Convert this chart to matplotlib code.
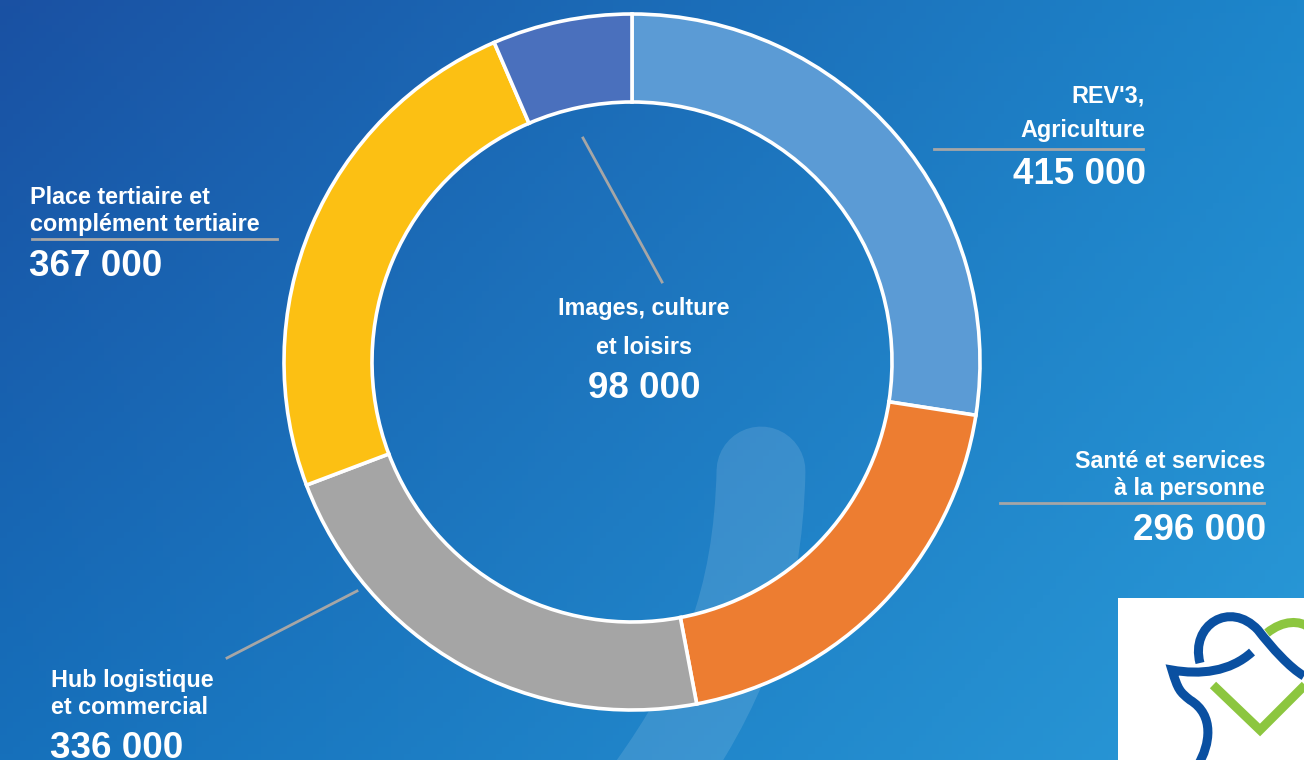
import numpy as np
import matplotlib
matplotlib.use("Agg")
import matplotlib.pyplot as plt
from matplotlib.path import Path
from matplotlib.patches import PathPatch, Rectangle
from matplotlib.colors import to_rgb

plt.rcParams["font.family"] = ["Liberation Sans", "DejaVu Sans"]

# data, clockwise from the top
labels = ["REV'3,\nAgriculture", "Santé et services\nà la personne",
          "Hub logistique\net commercial", "Place tertiaire et\ncomplément tertiaire",
          "Images, culture\net loisirs"]
values = [415000, 296000, 336000, 367000, 98000]
colors = ["#5b9bd5", "#ed7d31", "#a5a5a5", "#fcc013", "#4a70bd"]


def fmt(v):
    return f"{v:,}".replace(",", " ")


W, H = 1304, 760
fig = plt.figure(figsize=(W / 100, H / 100), dpi=100)
ax = fig.add_axes([0, 0, 1, 1])

# background gradient (bilinear between corner colours)
tl, tr = np.array(to_rgb("#1a51a3")), np.array(to_rgb("#1d86cb"))
bl, br = np.array(to_rgb("#1670bb")), np.array(to_rgb("#2a9ad8"))
u = np.linspace(0, 1, 200)[None, :, None]
v = np.linspace(0, 1, 120)[:, None, None]
grad = (1 - v) * ((1 - u) * tl + u * tr) + v * ((1 - u) * bl + u * br)
ax.imshow(grad, extent=(0, W, H, 0), origin="upper", aspect="auto", zorder=0)

# translucent ribbon behind the donut
band = Path([(761, 471), (758, 600), (722, 690), (650, 790)],
            [Path.MOVETO, Path.CURVE4, Path.CURVE4, Path.CURVE4])
bp = PathPatch(band, fill=False, lw=64, ec="white", alpha=0.12, zorder=1)
bp.set_capstyle("round")
ax.add_patch(bp)

# donut (y axis inverted -> startangle -90 / counterclock gives clockwise from top)
cx, cy, R = 632, 362, 348
ax.pie(values, colors=colors, startangle=-90, counterclock=True,
       center=(cx, cy), radius=R,
       wedgeprops=dict(width=88, edgecolor="white", linewidth=2.6))
ax.set_xlim(0, W)
ax.set_ylim(H, 0)
ax.set_aspect("auto")
ax.axis("off")

grey = "#a6a6a6"
lab = dict(color="white", fontsize=16.8, fontweight="bold")
num = dict(color="white", fontsize=26.5, fontweight="bold")

# REV'3
ax.text(1145, 96, "REV'3,", ha="right", va="center", **lab)
ax.text(1145, 131, "Agriculture", ha="right", va="center", **lab)
ax.plot([934, 1143], [149, 149], color=grey, lw=2, zorder=3)
ax.text(1146, 175, fmt(values[0]), ha="right", va="center", **num)

# Santé
ax.text(1265, 461, "Santé et services", ha="right", va="center", **lab)
ax.text(1265, 488, "à la personne", ha="right", va="center", **lab)
ax.plot([1000, 1264], [503, 503], color=grey, lw=2, zorder=3)
ax.text(1266, 531, fmt(values[1]), ha="right", va="center", **num)

# Hub
ax.plot([227, 357], [658, 591], color=grey, lw=2, zorder=3)
ax.text(51, 680, "Hub logistique", ha="left", va="center", **lab)
ax.text(51, 707, "et commercial", ha="left", va="center", **lab)
ax.text(50, 749, fmt(values[2]), ha="left", va="center", **num)

# Place tertiaire
ax.text(30, 198, "Place tertiaire et", ha="left", va="center", **lab)
ax.text(30, 224, "complément tertiaire", ha="left", va="center", **lab)
ax.plot([32, 277], [239, 239], color=grey, lw=2, zorder=3)
ax.text(29, 267, fmt(values[3]), ha="left", va="center", **num)

# Images (centre)
ax.plot([583, 662], [138, 282], color=grey, lw=2, zorder=3)
ax.text(644, 309, "Images, culture", ha="center", va="center", **lab)
ax.text(644, 347, "et loisirs", ha="center", va="center", **lab)
ax.text(644, 388, fmt(values[4]), ha="center", va="center", **num)

# logo box, bottom right
ax.add_patch(Rectangle((1118, 598), 200, 170, fc="white", ec="none", zorder=4))
green = Path([(1213, 685), (1260, 730), (1306, 684)],
             [Path.MOVETO, Path.LINETO, Path.LINETO])
ax.add_patch(PathPatch(green, fill=False, lw=6.5, ec="#8cc63f", zorder=5))
garc = Path([(1267, 633), (1283, 620), (1300, 620), (1310, 628)],
            [Path.MOVETO, Path.CURVE4, Path.CURVE4, Path.CURVE4])
ax.add_patch(PathPatch(garc, fill=False, lw=6.5, ec="#8cc63f", zorder=5))
blue1 = Path([(1200, 663), (1190, 625), (1230, 600), (1258, 630),
              (1272, 648), (1290, 668), (1304, 676)],
             [Path.MOVETO, Path.CURVE4, Path.CURVE4, Path.CURVE4,
              Path.CURVE4, Path.CURVE4, Path.CURVE4])
ax.add_patch(PathPatch(blue1, fill=False, lw=6.5, ec="#0a50a1", zorder=6))
blue2 = Path([(1252, 652), (1230, 672), (1200, 675), (1172, 670),
              (1178, 690), (1180, 692), (1190, 700),
              (1215, 715), (1210, 745), (1198, 765)],
             [Path.MOVETO, Path.CURVE4, Path.CURVE4, Path.CURVE4,
              Path.CURVE4, Path.CURVE4, Path.CURVE4,
              Path.CURVE4, Path.CURVE4, Path.CURVE4])
ax.add_patch(PathPatch(blue2, fill=False, lw=6.5, ec="#0a50a1", zorder=6))

fig.savefig("out.png", dpi=100)
